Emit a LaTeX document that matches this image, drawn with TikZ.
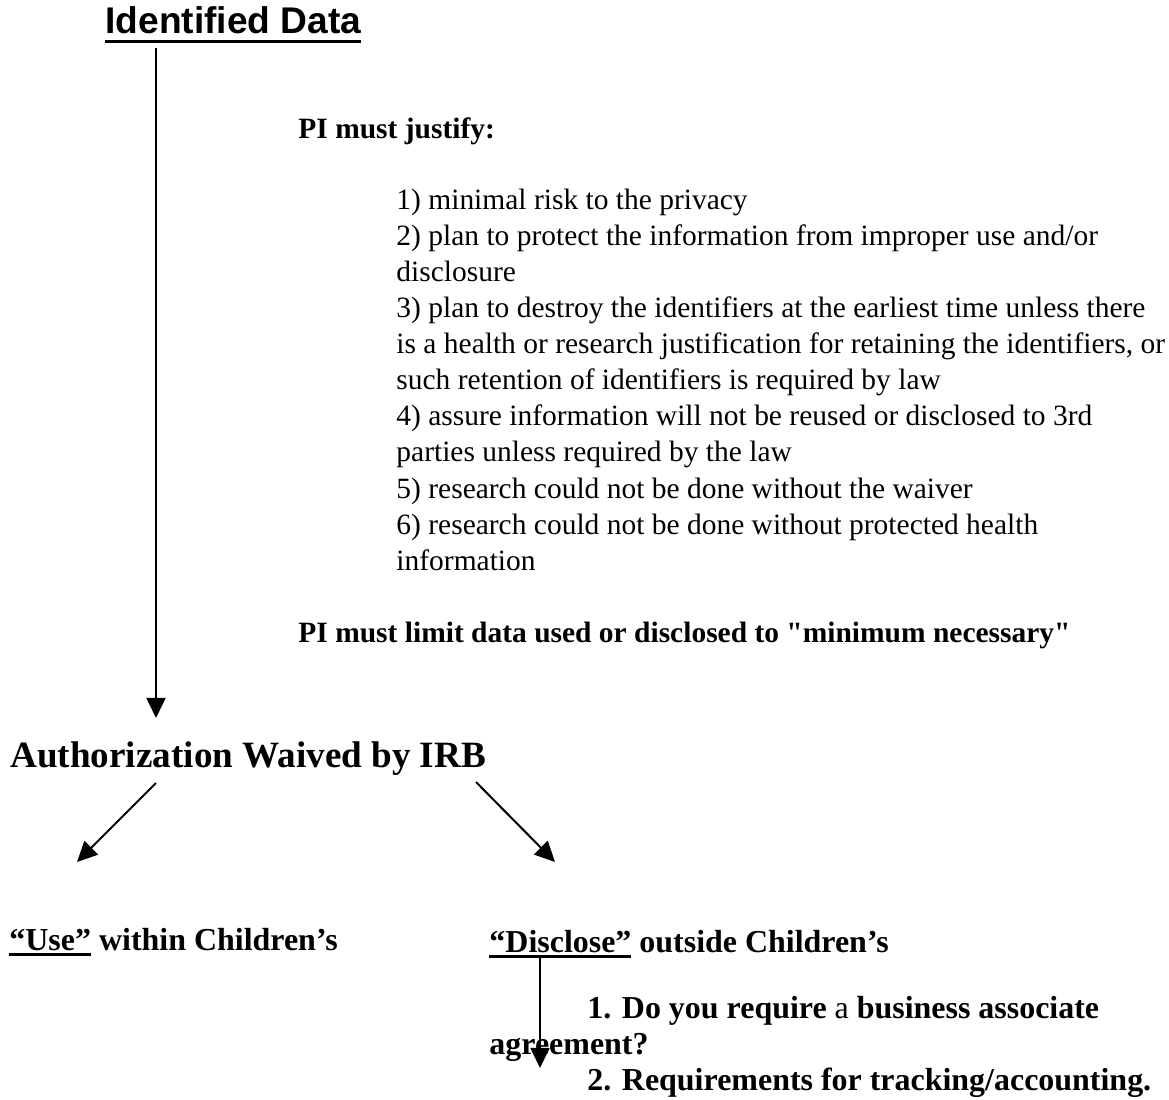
\documentclass[tikz,border=0pt]{standalone}
\usepackage{fontspec}
\setmainfont{Liberation Serif}[Ligatures=TeXOff]
\newfontfamily\arialfont{Liberation Sans}
\usetikzlibrary{arrows.meta}

% thick underline: #1 = depth of the rule bottom, #2 = text
\newcommand{\thickul}[2]{\setbox0\hbox{#2}\rlap{\rule[-#1]{\wd0}{1.3pt}}\box0\relax}
\tikzset{
  txt/.style={anchor=base west, inner sep=0pt},
  flow/.style={-{Triangle[length=9pt,width=8.5pt]}, line width=0.9pt},
  listfont/.style={font=\fontsize{13.1}{16}\selectfont},
  boldfont/.style={font=\bfseries\fontsize{13.1}{16}\selectfont},
  bigfont/.style={font=\bfseries\fontsize{16.5}{19}\selectfont},
  midfont/.style={font=\bfseries\fontsize{14.2}{16}\selectfont},
}

\begin{document}
\begin{tikzpicture}[x=0.4444pt, y=-0.4444pt]
    \useasboundingbox (0,0) rectangle (1169,1099);
    % headings and text blocks (multi-line nodes sit on their last line)
    \node[txt, font=\arialfont\bfseries\fontsize{16.5}{19}\selectfont] (ident) at (105,33)
        {\thickul{4.4pt}{Identified Data}};
    \node[txt, boldfont] (justify) at (298,138) {PI must justify:};
    \node[txt, listfont, align=left] (reasons) at (396,570) {%
        1) minimal risk to the privacy\\
        2) plan to protect the information from improper use and/or\\
        disclosure\\
        3) plan to destroy the identifiers at the earliest time unless there\\
        is a health or research justification for retaining the identifiers, or\\
        such retention of identifiers is required by law\\
        4) assure information will not be reused or disclosed to 3rd\\
        parties unless required by the law\\
        5) research could not be done without the waiver\\
        6) research could not be done without protected health\\
        information};
    \node[txt, boldfont] (limit) at (298,642)
        {PI must limit data used or disclosed to "minimum necessary"};
    \node[txt, bigfont] (waived) at (10,767) {Authorization Waived by IRB};
    \node[txt, midfont] (use) at (9,950)
        {\thickul{2.6pt}{“Use”} within Children’s};
    \node[txt, midfont] (disclose) at (489,952)
        {\thickul{2.6pt}{“Disclose”} outside Children’s};
    \node[txt, midfont, align=left] (questions) at (489,1090) {%
        \hspace*{43.5pt}1. Do you require \mdseries a \bfseries business associate\\
        agreement?\\
        \hspace*{43.5pt}2. Requirements for tracking/accounting.};
    % arrow ends
    \coordinate (top) at (156,48);
    \coordinate (waivedtop) at (156,718);
    \coordinate (leftstart) at (156,783);
    \coordinate (useend) at (77,862);
    \coordinate (rightstart) at (476,782);
    \coordinate (discend) at (555,862);
    \coordinate (discstart) at (540,958);
    \coordinate (questend) at (540,1068);
    % arrows
    \draw[flow] (top) -- (waivedtop);
    \draw[flow] (leftstart) -- (useend);
    \draw[flow] (rightstart) -- (discend);
    \draw[flow] (discstart) -- (questend);
\end{tikzpicture}
\end{document}
